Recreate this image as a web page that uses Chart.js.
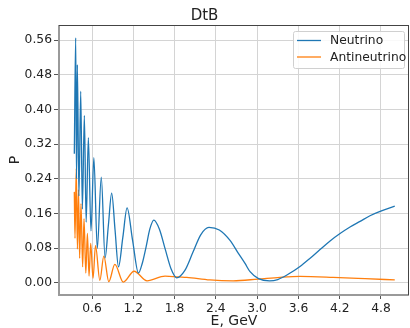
<!DOCTYPE html>
<html>
<head>
<meta charset="utf-8">
<script src="https://cdn.jsdelivr.net/npm/chart.js@4"></script>
<style>
  html, body { margin: 0; padding: 0; background: #fff; }
  #wrap { width: 410px; height: 328px; }
</style>
</head>
<body>
<div id="wrap"><canvas id="MyChart"></canvas></div>
<script>
// values (E in GeV, P)
const nuEnergy = [0.343, 0.363, 0.375, 0.387, 0.41, 0.436, 0.46, 0.489, 0.515, 0.547, 0.585, 0.627,
  0.677, 0.735, 0.79, 0.838, 0.886, 0.935, 0.985, 1.048, 1.11, 1.19, 1.275, 1.33, 1.387, 1.44, 1.498,
  1.58, 1.664, 1.75, 1.83, 1.95, 2.065, 2.18, 2.30, 2.45, 2.606, 2.72, 2.824, 2.897, 3.02,
  3.18, 3.3, 3.45, 3.623, 3.77, 3.914, 4.06, 4.205, 4.35, 4.496, 4.64, 4.787, 5.0];
const nuProb = [0.298, 0.565, 0.24, 0.503, 0.2, 0.442, 0.17, 0.386, 0.14, 0.335, 0.12, 0.289,
  0.08, 0.244, 0.058, 0.133, 0.207, 0.122, 0.037, 0.105, 0.173, 0.098, 0.023, 0.045, 0.084, 0.124, 0.145,
  0.124, 0.078, 0.032, 0.012, 0.029, 0.07, 0.111, 0.128, 0.122, 0.098, 0.07, 0.045, 0.026, 0.01,
  0.005, 0.008, 0.02, 0.038, 0.057, 0.077, 0.097, 0.114, 0.129, 0.142, 0.155, 0.165, 0.177];

const antiEnergy = [0.343, 0.353, 0.371, 0.388, 0.404, 0.42, 0.44, 0.464, 0.484, 0.51, 0.533, 0.557,
  0.581, 0.615, 0.651, 0.714, 0.772, 0.844, 0.932, 1.055, 1.211, 1.4, 1.661, 1.85, 1.977, 2.315,
  2.65, 3.013, 3.333, 3.623, 4.103, 4.57, 5.0];
const antiProb = [0.21, 0.103, 0.264, 0.078, 0.215, 0.057, 0.183, 0.037, 0.148, 0.023, 0.114, 0.016,
  0.091, 0.011, 0.086, 0.006, 0.062, 0.003, 0.043, 0.002, 0.027, 0.005, 0.016, 0.014, 0.013, 0.007,
  0.005, 0.009, 0.013, 0.015, 0.013, 0.01, 0.007];

const xTicks = [0.6, 1.2, 1.8, 2.4, 3.0, 3.6, 4.2, 4.8];
const yTicks = [0.0, 0.08, 0.16, 0.24, 0.32, 0.40, 0.48, 0.56];

const FONT = "'DejaVu Sans', sans-serif";

function toPoints(xs, ys) {
  return xs.map((x, i) => ({ x: x, y: ys[i] }));
}

// matplotlib-like frame + legend box
const framePlugin = {
  id: "frame",
  afterDraw(chart) {
    const { ctx, chartArea: a } = chart;
    ctx.save();
    // spines
    ctx.strokeStyle = "#9a9a9a";
    ctx.lineWidth = 2;
    ctx.beginPath();
    ctx.moveTo(a.left, a.top);
    ctx.lineTo(a.left, a.bottom);
    ctx.lineTo(a.right, a.bottom);
    ctx.stroke();
    ctx.strokeStyle = "#444";
    ctx.lineWidth = 1;
    ctx.beginPath();
    ctx.moveTo(a.left, a.top + 0.5);
    ctx.lineTo(a.right, a.top + 0.5);
    ctx.moveTo(a.right - 0.5, a.top);
    ctx.lineTo(a.right - 0.5, a.bottom);
    ctx.stroke();

    // legend
    const bx = 293.5, by = 31.5, bw = 111, bh = 37;
    ctx.fillStyle = "rgba(255,255,255,0.85)";
    ctx.strokeStyle = "#d0d0d0";
    ctx.lineWidth = 1;
    ctx.beginPath();
    ctx.roundRect(bx, by, bw, bh, 2);
    ctx.fill();
    ctx.stroke();
    ctx.font = "12.3px " + FONT;
    ctx.textBaseline = "middle";
    ctx.textAlign = "left";
    chart.data.datasets.forEach((ds, i) => {
      const ly = 40.5 + i * 16.5;
      ctx.strokeStyle = ds.borderColor;
      ctx.lineWidth = 1.3;
      ctx.beginPath();
      ctx.moveTo(297, ly);
      ctx.lineTo(321, ly);
      ctx.stroke();
      ctx.fillStyle = "#222";
      ctx.fillText(ds.label, 330, ly + 0.5);
    });
    ctx.restore();
  }
};

function createChart() {
  const data = {
    datasets: [
      {
        label: "Neutrino",
        data: toPoints(nuEnergy, nuProb),
        borderColor: "#1f77b4",
        borderWidth: 1.3,
        pointRadius: 0,
        cubicInterpolationMode: "monotone",
      },
      {
        label: "Antineutrino",
        data: toPoints(antiEnergy, antiProb),
        borderColor: "#ff7f0e",
        borderWidth: 1.3,
        pointRadius: 0,
        cubicInterpolationMode: "monotone",
      },
    ],
  };

  const config = {
    type: "line",
    data: data,
    plugins: [framePlugin],
    options: {
      responsive: true,
      maintainAspectRatio: false,
      animation: false,
      layout: { padding: { top: 0, right: 1, left: 0, bottom: 0 } },
      plugins: {
        legend: { display: false },
        tooltip: { enabled: false },
        title: {
          display: true,
          text: "DtB",
          color: "#222",
          font: { family: FONT, size: 15, weight: "normal" },
          padding: { top: 7, bottom: 0 },
        },
      },
      scales: {
        x: {
          type: "linear",
          min: 0.1204,
          max: 5.207,
          afterFit: (s) => { s.height = 33; },
          afterBuildTicks: (s) => { s.ticks = xTicks.map((v) => ({ value: v })); },
          border: { display: false },
          grid: { color: "#d4d4d4", lineWidth: 1, tickLength: 4, tickColor: "#555" },
          ticks: {
            color: "#222",
            padding: 2,
            maxRotation: 0,
            font: { family: FONT, size: 12.3 },
            callback: (v) => v.toFixed(1),
          },
          title: {
            display: true,
            text: "E, GeV",
            color: "#222",
            font: { family: FONT, size: 14, lineHeight: 1.0 },
            padding: { top: 0, bottom: 0 },
          },
        },
        y: {
          min: -0.0277,
          max: 0.5946,
          afterFit: (s) => { s.width = 59; },
          afterBuildTicks: (s) => { s.ticks = yTicks.map((v) => ({ value: v })); },
          border: { display: false },
          grid: { color: "#d4d4d4", lineWidth: 1, tickLength: 5, tickColor: "#555" },
          ticks: {
            color: "#222",
            padding: 2,
            font: { family: FONT, size: 12.3 },
            callback: (v) => v.toFixed(2),
          },
          title: {
            display: true,
            text: "P",
            color: "#222",
            font: { family: FONT, size: 14 },
            padding: { top: 7, bottom: 0 },
          },
        },
      },
    },
  };
  const myChart = new Chart(document.getElementById("MyChart"), config);
  myChart.update();
}
createChart();
</script>
</body>
</html>
